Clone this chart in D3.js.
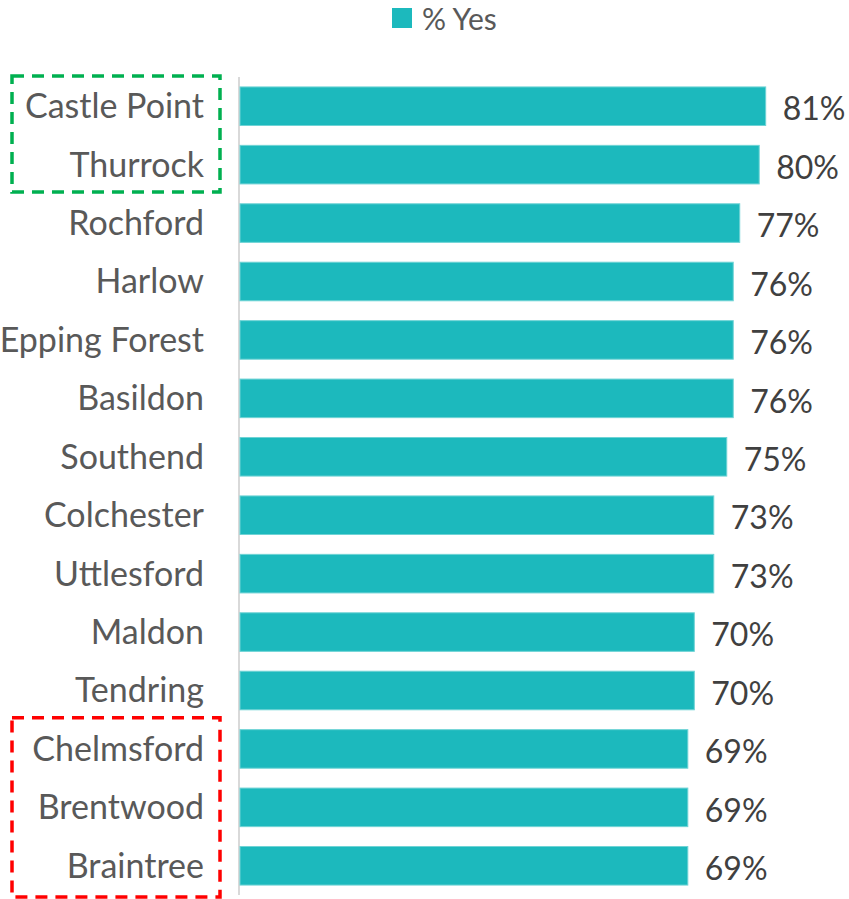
<!DOCTYPE html>
<html>
<head>
<meta charset="utf-8">
<script src="https://cdn.jsdelivr.net/npm/d3@7"></script>
<style>
    html, body { margin: 0; padding: 0; background: #fff; }
    #chart { width: 849px; height: 899px; overflow: hidden; }
    text { font-family: Lato, "Liberation Sans", sans-serif; }
</style>
</head>
<body>
<div id="chart"></div>
<script>
var districts = ['Castle Point', 'Thurrock', 'Rochford', 'Harlow', 'Epping Forest', 'Basildon',
    'Southend', 'Colchester', 'Uttlesford', 'Maldon', 'Tendring', 'Chelmsford', 'Brentwood', 'Braintree'];
var yesPct = [81, 80, 77, 76, 76, 76, 75, 73, 73, 70, 70, 69, 69, 69];
var seriesName = '% Yes';
var topGroup = ['Castle Point', 'Thurrock'];
var bottomGroup = ['Chelmsford', 'Brentwood', 'Braintree'];

(function () {
    var width = 849, height = 899;
    var barColor = '#1cb9bd';

    var rows = districts.map(function (d, i) {
        return { name: d, value: yesPct[i] };
    });

    var svg = d3.select('#chart')
        .append('svg')
        .attr('width', width)
        .attr('height', height);

    var x = d3.scaleLinear()
        .domain([0, 100])
        .range([240, 889]);

    var y = d3.scaleBand()
        .domain(districts)
        .range([77, 895])
        .paddingInner(0.34)
        .paddingOuter(0.17);

    // category axis (just the grey line + labels)
    svg.append('line')
        .attr('x1', 239).attr('x2', 239)
        .attr('y1', y.range()[0]).attr('y2', y.range()[1])
        .attr('stroke', '#d9d9d9')
        .attr('stroke-width', 2);

    svg.selectAll('.cat-label')
        .data(rows)
        .enter()
        .append('text')
        .attr('class', 'cat-label')
        .attr('x', 204)
        .attr('y', function (d) { return y(d.name) + y.bandwidth() / 2; })
        .attr('dy', '0.35em')
        .attr('text-anchor', 'end')
        .attr('fill', '#595959')
        .style('font-size', '34px')
        .text(function (d) { return d.name; });

    // bars
    svg.selectAll('.bar')
        .data(rows)
        .enter()
        .append('rect')
        .attr('class', 'bar')
        .attr('x', x(0))
        .attr('y', function (d) { return y(d.name); })
        .attr('width', function (d) { return x(d.value) - x(0); })
        .attr('height', y.bandwidth())
        .attr('fill', barColor)
        .attr('stroke', '#6fd3d5')
        .attr('stroke-width', 1);

    svg.selectAll('.val-label')
        .data(rows)
        .enter()
        .append('text')
        .attr('class', 'val-label')
        .attr('x', function (d) { return x(d.value) + 17; })
        .attr('y', function (d) { return y(d.name) + y.bandwidth() / 2 + 3; })
        .attr('dy', '0.35em')
        .attr('fill', '#404040')
        .style('font-size', '32px')
        .text(function (d) { return d.value + '%'; });

    // legend
    var legend = svg.append('g');
    legend.append('rect')
        .attr('x', 392).attr('y', 8)
        .attr('width', 20).attr('height', 20)
        .attr('fill', barColor);
    legend.append('text')
        .attr('x', 422).attr('y', 30)
        .attr('fill', '#595959')
        .style('font-size', '30px')
        .text(seriesName);

    // dashed highlight boxes
    function groupBox(names, color, padTop, padBottom) {
        var top = y(names[0]) - padTop;
        var bottom = y(names[names.length - 1]) + y.bandwidth() + padBottom;
        svg.append('rect')
            .attr('x', 12).attr('y', top)
            .attr('width', 208).attr('height', bottom - top)
            .attr('fill', 'none')
            .attr('stroke', color)
            .attr('stroke-width', 3.5)
            .attr('stroke-dasharray', '12 8');
    }

    groupBox(topGroup, '#00b050', 11, 8);
    groupBox(bottomGroup, '#ff0000', 12, 12);
})();
</script>
</body>
</html>
